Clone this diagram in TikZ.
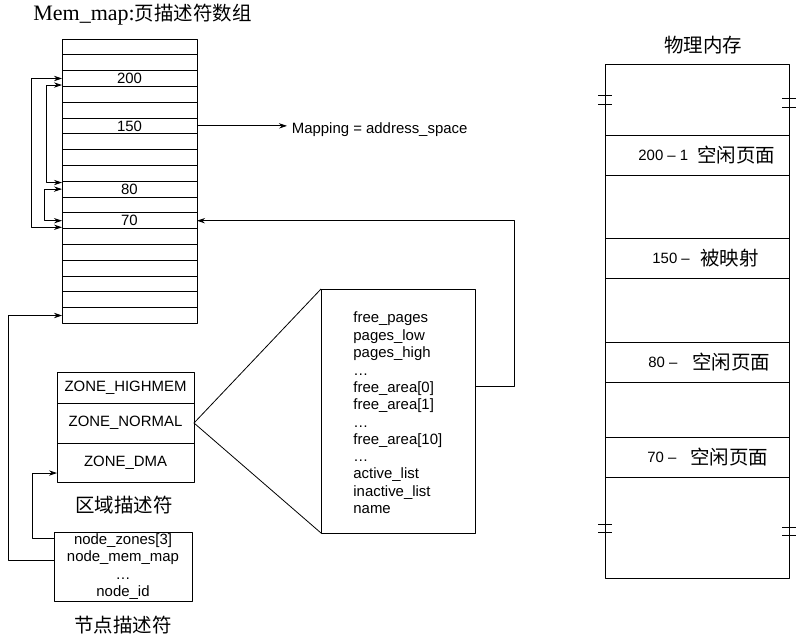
\documentclass[tikz,border=0pt]{standalone}
\usepackage{fontspec}
\setmainfont{Liberation Sans}
\newfontfamily\serifmm{Liberation Serif}
\newfontfamily\cjk{Noto Sans CJK SC}
\usetikzlibrary{arrows.meta}
\begin{document}
\begin{tikzpicture}[x=0.75pt, y=-0.75pt, line width=0.6pt, line join=round, >={Stealth[length=6pt, width=4pt]},
	font=\fontsize{11.2}{11.85}\selectfont,
	cell/.style={draw, minimum width=101.25pt, minimum height=11.85pt, inner sep=0pt, outer sep=0pt},
	zonerow/.style={draw, minimum width=102.75pt, inner sep=0pt, outer sep=0pt},
	band/.style={draw, minimum width=138pt, minimum height=30pt, inner sep=0pt, outer sep=0pt},
	cjklabel/.style={font=\cjk\fontsize{14.6}{16}\selectfont}]
	\useasboundingbox (0,0) rectangle (796,638);
	
	% Mảng mem_map
	\node[anchor=west, inner sep=0pt] (title) at (33,15) {\serifmm\fontsize{16.5}{16.5}\selectfont Mem\_map:\cjk\fontsize{14.6}{15}\selectfont 页描述符数组};
	\foreach \i in {0,...,17}
		\node[cell] (r\i) at (129.5,{39+15.8*(\i+0.5)}) {};
	\node (l200) at (r2) {200};
	\node (l150) at (r5) {150};
	\node (l80) at (r9) {80};
	\node (l70) at (r11) {70};
	
	% Danh sách liên kết các trang rỗi
	\draw[<->] (r2.west) -- ++(-31,0) |- ([yshift=1pt]r11.south west);
	\draw[<->] ([yshift=1pt]r2.south west) -- ++(-16,0) |- ([yshift=-1pt]r9.north west);
	\draw[<->] (r9.west) -- ++(-18,0) |- (r11.west);
	
	% Ánh xạ
	\node[anchor=west] (mapping) at (287,130) {Mapping = address\_space};
	\draw[->] (r5.east) -- (r5.east -| mapping.west);
	
	% Bộ mô tả vùng
	\node[zonerow, minimum height=23.25pt] (zhigh) at (125.5,387.5) {ZONE\_HIGHMEM};
	\node[zonerow, minimum height=30pt] (znormal) at (125.5,423) {ZONE\_NORMAL};
	\node[zonerow, minimum height=29.25pt] (zdma) at (125.5,462.5) {ZONE\_DMA};
	\node[cjklabel] (zlabel) at (124,505) {区域描述符};
	
	% Các trường của vùng
	\node[draw, minimum width=115.5pt, minimum height=183pt, inner sep=0pt, outer sep=0pt] (zfields) at (398,411) {};
	\node[anchor=west, align=left, inner sep=0pt, font=\fontsize{11.2}{13}\selectfont] (fields) at (353,413)
		{free\_pages\\pages\_low\\pages\_high\\\dots\\free\_area[0]\\free\_area[1]\\\dots\\free\_area[10]\\\dots\\active\_list\\inactive\_list\\name};
	\draw (zfields.north west) -- (znormal.east) -- (zfields.south west);
	\draw[->] ([yshift=18.75pt]zfields.east) -- ++(39,0) |- (r11.east);
	
	% Bộ mô tả nút
	\node[draw, minimum width=103.5pt, minimum height=51.75pt, inner sep=0pt, outer sep=0pt, align=center,
		font=\fontsize{11.2}{13}\selectfont] (nodebox) at (123,566.5)
		{node\_zones[3]\\node\_mem\_map\\\dots\\node\_id};
	\node[cjklabel] (nlabel) at (123,625) {节点描述符};
	\draw[->] ([yshift=4.9pt]nodebox.west) -- ++(-46,0) |- (r17.west);
	\draw[->] ([yshift=21.4pt]nodebox.west) -- ++(-22,0) |- ([yshift=-7.9pt]zdma.west);
	
	% Bộ nhớ vật lý
	\node[cjklabel] (ptitle) at (703,45) {物理内存};
	\node[draw, minimum width=138pt, minimum height=385.5pt, inner sep=0pt, outer sep=0pt] (phys) at (697,321) {};
	\node[band] (pg200) at (697,155) {};
	\node[band] (pg150) at (697,258) {};
	\node[band] (pg80) at (697,362) {};
	\node[band] (pg70) at (697,457) {};
	\foreach \b/\num/\xn/\lab/\xl in {pg200/200 -- 1/638/空闲页面/697, pg150/150 --/652/被映射/700,
		pg80/80 --/648/空闲页面/692, pg70/70 --/647/空闲页面/690} {
		\node[anchor=west, inner sep=0pt] (\b num) at (\xn,0 |- \b) {\num};
		\node[anchor=west, inner sep=0pt, cjklabel] (\b lab) at (\xl,0 |- \b) {\lab};
	}
	
	% Ký hiệu ngắt
	\foreach \x/\y in {605/95, 605/104, 789/98, 789/107, 605/524, 605/532, 789/527, 789/535}
		\draw ({\x-7},\y) -- ({\x+7},\y);
\end{tikzpicture}
\end{document}
